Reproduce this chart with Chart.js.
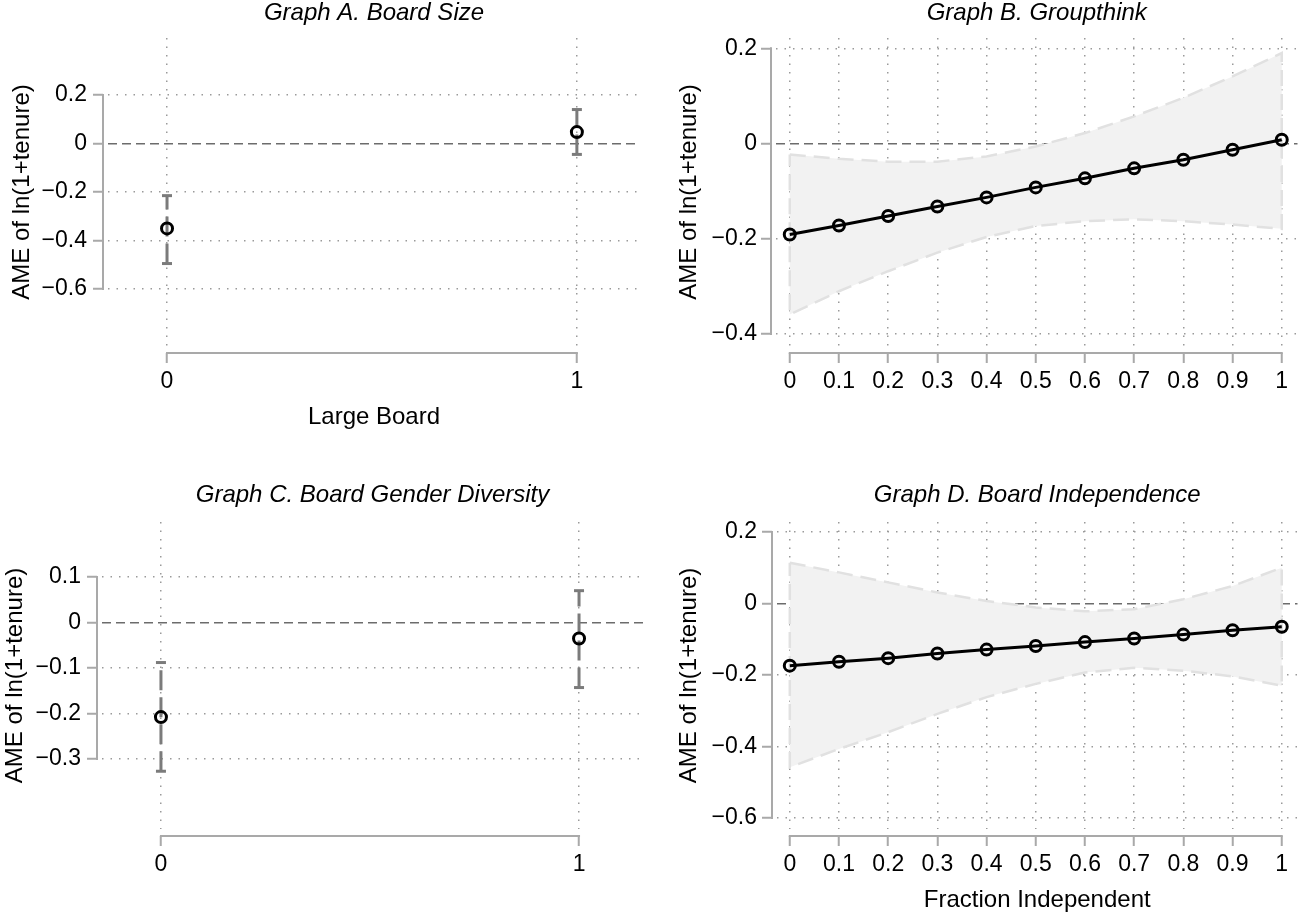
<!DOCTYPE html>
<html>
<head>
<meta charset="utf-8">
<script src="https://cdn.jsdelivr.net/npm/chart.js@4"></script>
<style>
  html, body { margin: 0; padding: 0; background: #fff; }
  body { width: 1306px; height: 913px; position: relative; overflow: hidden; }
  .panel { position: absolute; }
</style>
</head>
<body>
<div class="panel" style="left:0;top:0;width:653px;height:456px"><canvas id="gA"></canvas></div>
<div class="panel" style="left:653px;top:0;width:653px;height:456px"><canvas id="gB"></canvas></div>
<div class="panel" style="left:0;top:456px;width:653px;height:457px"><canvas id="gC"></canvas></div>
<div class="panel" style="left:653px;top:456px;width:653px;height:457px"><canvas id="gD"></canvas></div>
<script>
// Graph A: board size (0/1), AME with 95% CI
const sizeX = [0, 1];
const sizeAME = [-0.350, 0.047];
const sizeLo = [-0.495, -0.045];
const sizeHi = [-0.215, 0.140];

// Graph C: board gender diversity (0/1)
const genderX = [0, 1];
const genderAME = [-0.208, -0.035];
const genderLo = [-0.327, -0.143];
const genderHi = [-0.088, 0.070];

// Graphs B and D share the fraction grid
const fracX = [0, 0.1, 0.2, 0.3, 0.4, 0.5, 0.6, 0.7, 0.8, 0.9, 1];

// Graph B: groupthink
const groupAME = [-0.191, -0.172, -0.152, -0.132, -0.113, -0.092, -0.073, -0.052, -0.034, -0.013, 0.008];
const groupHi = [-0.023, -0.032, -0.038, -0.038, -0.027, -0.006, 0.022, 0.057, 0.096, 0.141, 0.190];
const groupLo = [-0.359, -0.310, -0.268, -0.229, -0.196, -0.173, -0.163, -0.159, -0.163, -0.170, -0.179];

// Graph D: board independence
const indepAME = [-0.174, -0.163, -0.153, -0.140, -0.129, -0.119, -0.108, -0.098, -0.087, -0.075, -0.065];
const indepHi = [0.114, 0.087, 0.059, 0.031, 0.007, -0.011, -0.022, -0.016, 0.012, 0.049, 0.100];
const indepLo = [-0.458, -0.407, -0.360, -0.309, -0.262, -0.225, -0.193, -0.180, -0.188, -0.204, -0.230];

// tick labels
const xTicksBin = [0, 1];
const xTicksFrac = [0, 0.1, 0.2, 0.3, 0.4, 0.5, 0.6, 0.7, 0.8, 0.9, 1];
const yTicksA = [-0.6, -0.4, -0.2, 0, 0.2];
const yTicksB = [-0.4, -0.2, 0, 0.2];
const yTicksC = [-0.3, -0.2, -0.1, 0, 0.1];
const yTicksD = [-0.6, -0.4, -0.2, 0, 0.2];

const yLabel = 'AME of ln(1+tenure)';

const FONT = "'Liberation Sans', Arial, Helvetica, sans-serif";
const GRID = '#9a9a9a';
const ZERO = '#6c6c6c';
const AXIS = '#a9a9a9';
const BAR = '#7b7b7b';

const fmt = v => (v < 0 ? '\u2212' : '') + Math.abs(v);

// axis lines only between first and last tick, set off from the plot region (Stata look)
const stataAxes = {
  id: 'stataAxes',
  afterDraw(chart, args, opts) {
    const {ctx, chartArea: a, scales: {x, y}} = chart;
    const ys = y.ticks.map(t => y.getPixelForValue(t.value));
    const xs = x.ticks.map(t => x.getPixelForValue(t.value));
    const ax = a.left - opts.yGap;
    const ay = a.bottom + opts.xGap;
    ctx.save();
    ctx.strokeStyle = AXIS;
    ctx.lineWidth = 2;
    ctx.beginPath();
    ctx.moveTo(ax, Math.min(...ys) - 1);
    ctx.lineTo(ax, Math.max(...ys) + 1);
    ctx.moveTo(Math.min(...xs) - 1, ay);
    ctx.lineTo(Math.max(...xs) + 1, ay);
    ctx.stroke();
    ctx.restore();
  }
};

const pts = (xs, ys) => xs.map((x, i) => ({x: x, y: ys[i]}));

function markerSet(xs, ys, withLine) {
  return {
    data: pts(xs, ys),
    showLine: withLine,
    borderColor: '#000',
    borderWidth: 3,
    pointStyle: 'circle',
    pointRadius: 5.5,
    pointBorderWidth: 3,
    pointBorderColor: '#000',
    pointBackgroundColor: 'rgba(0,0,0,0)',
    order: 0
  };
}

function errorBars(xs, lo, hi) {
  return xs.map((x, i) => ({
    data: [{x: x, y: lo[i]}, {x: x, y: hi[i]}],
    showLine: true,
    borderColor: BAR,
    borderWidth: 3,
    borderDash: [20, 7],
    pointStyle: 'line',
    pointRadius: 5,
    pointBorderWidth: 3,
    pointBorderColor: BAR,
    order: 2
  }));
}

function band(xs, lo, hi) {
  const upper = pts(xs, hi);
  const lower = pts(xs, lo).reverse();
  return {
    data: upper.concat(lower, [upper[0]]),
    showLine: true,
    fill: 'shape',
    backgroundColor: '#f2f2f2',
    borderColor: '#e1e1e1',
    borderWidth: 2.5,
    borderDash: [16, 8],
    pointRadius: 0,
    order: 1
  };
}

function panel(id, o) {
  const tickFont = {family: FONT, size: 23, lineHeight: 1};
  const labFont = {family: FONT, size: 24, lineHeight: 1};
  return new Chart(document.getElementById(id), {
    type: 'scatter',
    data: {datasets: o.datasets},
    options: {
      responsive: true,
      maintainAspectRatio: false,
      animation: false,
      events: [],
      layout: {padding: {left: 0, right: o.padRight, top: 0, bottom: 0}},
      plugins: {
        legend: {display: false},
        tooltip: {enabled: false},
        title: {
          display: true,
          text: o.title,
          fullSize: false,
          color: '#000',
          font: {family: FONT, size: 24, style: 'italic', weight: 'normal', lineHeight: 1},
          padding: {top: o.titleTop, bottom: o.titleBottom}
        },
        stataAxes: {xGap: 7, yGap: 5}
      },
      scales: {
        x: {
          type: 'linear',
          min: o.xMin,
          max: o.xMax,
          afterBuildTicks: s => { s.ticks = o.xTicks.map(v => ({value: v})); },
          afterFit: s => { s.height = o.xAxisH; },
          ticks: {autoSkip: false, maxRotation: 0, padding: 7, color: '#000', font: tickFont,
                  callback: v => String(v)},
          grid: {color: GRID, lineWidth: 1.5, tickLength: 17, tickColor: AXIS, tickWidth: 2,
                 tickBorderDash: [0, 7, 10, 60]},
          border: {display: false, dash: [1.5, 7]},
          title: {display: !!o.xTitle, text: o.xTitle || '', color: '#000', font: labFont,
                  padding: {top: 0, bottom: o.xTitlePad || 0}}
        },
        y: {
          type: 'linear',
          min: o.yMin,
          max: o.yMax,
          afterBuildTicks: s => { s.ticks = o.yTicks.map(v => ({value: v})); },
          afterFit: s => { s.width = o.yAxisW; },
          ticks: {autoSkip: false, padding: o.yLabPad, color: '#000', font: tickFont, callback: fmt},
          grid: {
            color: c => (c.tick && c.tick.value === 0 ? ZERO : GRID),
            lineWidth: 1.5,
            tickLength: 15, tickColor: AXIS, tickWidth: 2, tickBorderDash: [10, 60]
          },
          border: {display: false, dash: c => (c.tick && c.tick.value === 0 ? [9, 5] : [1.5, 7])},
          title: {display: true, text: yLabel, color: '#000', font: labFont,
                  padding: {top: o.yTitlePad, bottom: 0}}
        }
      }
    },
    plugins: [stataAxes]
  });
}

panel('gA', {
  title: 'Graph A. Board Size',
  datasets: [markerSet(sizeX, sizeAME, false)].concat(errorBars(sizeX, sizeLo, sizeHi)),
  xTicks: xTicksBin, yTicks: yTicksA,
  xMin: -0.144, xMax: 1.154, yMin: -0.835, yMax: 0.435,
  padRight: 13, titleTop: 1, titleBottom: 13,
  xAxisH: 110, yAxisW: 108, yLabPad: 6, yTitlePad: 10,
  xTitle: 'Large Board', xTitlePad: 27
});

panel('gB', {
  title: 'Graph B. Groupthink',
  datasets: [markerSet(fracX, groupAME, true), band(fracX, groupLo, groupHi)],
  xTicks: xTicksFrac, yTicks: yTicksB,
  xMin: -0.028, xMax: 1.032, yMin: -0.425, yMax: 0.2216,
  padRight: 0, titleTop: 1, titleBottom: 13,
  xAxisH: 110, yAxisW: 123, yLabPad: 4, yTitlePad: 24
});

panel('gC', {
  title: 'Graph C. Board Gender Diversity',
  datasets: [markerSet(genderX, genderAME, false)].concat(errorBars(genderX, genderLo, genderHi)),
  xTicks: xTicksBin, yTicks: yTicksC,
  xMin: -0.141, xMax: 1.153, yMin: -0.454, yMax: 0.221,
  padRight: 10, titleTop: 27, titleBottom: 15,
  xAxisH: 84, yAxisW: 102, yLabPad: 6, yTitlePad: 3
});

panel('gD', {
  title: 'Graph D. Board Independence',
  datasets: [markerSet(fracX, indepAME, true), band(fracX, indepLo, indepHi)],
  xTicks: xTicksFrac, yTicks: yTicksD,
  xMin: -0.026, xMax: 1.032, yMin: -0.631, yMax: 0.228,
  padRight: 0, titleTop: 27, titleBottom: 15,
  xAxisH: 84, yAxisW: 124, yLabPad: 5, yTitlePad: 24,
  xTitle: 'Fraction Independent', xTitlePad: 1
});
</script>
</body>
</html>
